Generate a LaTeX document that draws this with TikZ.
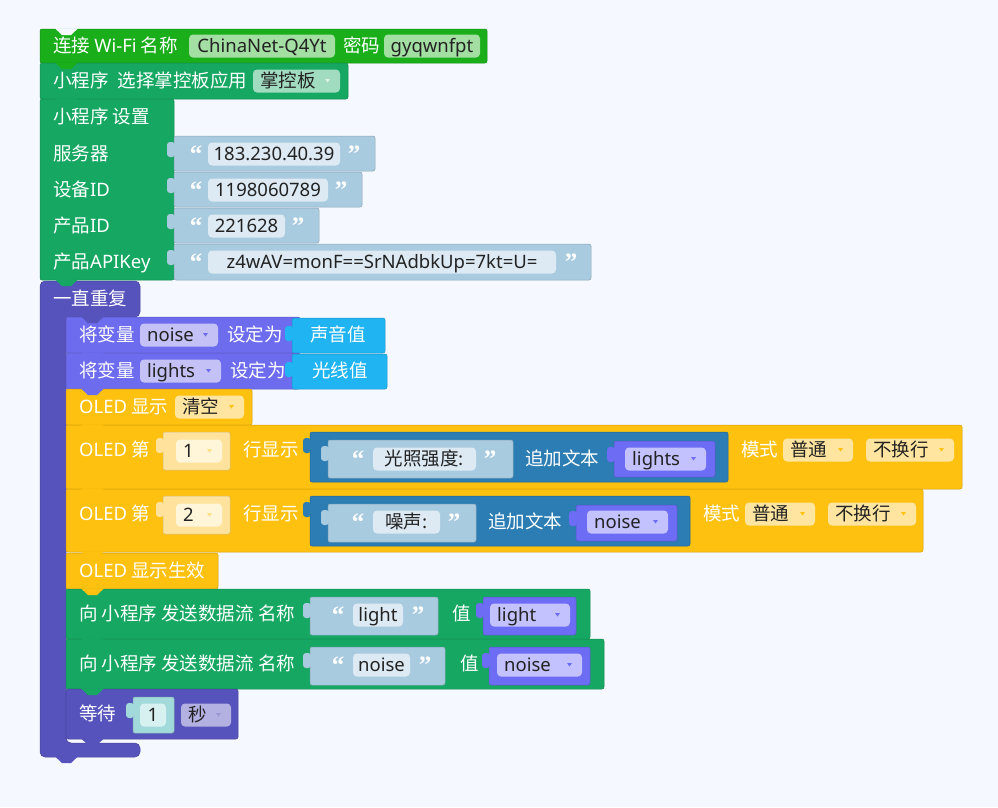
\documentclass[tikz,border=0pt]{standalone}
\usepackage{fontspec}
\setmainfont{Noto Sans}
\newfontfamily\cjk{Noto Sans CJK SC}
\newfontfamily\lat{Noto Sans}
\newfontfamily\qfont{Liberation Serif}
\usepackage{xcolor}
\definecolor{bgc}{HTML}{F5F8FE}
\definecolor{ink}{HTML}{222222}
\definecolor{wifi}{HTML}{1AAE1A}
\definecolor{wififld}{HTML}{A3DEA3}
\definecolor{mini}{HTML}{16A862}
\definecolor{minifld}{HTML}{A1DCC0}
\definecolor{txtb}{HTML}{A9CBE0}
\definecolor{txtfld}{HTML}{DDEAF3}
\definecolor{lpur}{HTML}{5653BC}
\definecolor{vset}{HTML}{6E6CEE}
\definecolor{vfld}{HTML}{C3C1F6}
\definecolor{sens}{HTML}{20B4F2}
\definecolor{oled}{HTML}{FFC10F}
\definecolor{oledfld}{HTML}{FFE59F}
\definecolor{numb}{HTML}{FFE39C}
\definecolor{numf}{HTML}{FFF5D8}
\definecolor{appd}{HTML}{2B7DB3}
\definecolor{vget}{HTML}{6D6CF4}
\definecolor{vgetfld}{HTML}{C3C2FE}
\definecolor{waitn}{HTML}{A2DADB}
\definecolor{waitf}{HTML}{D7F0F0}
\definecolor{secf}{HTML}{B3B0E2}
\usepackage{tikz}
\usetikzlibrary{positioning}
\newcommand{\fs}{\fontsize{18.5}{22}\selectfont}
% block body, notch tab, value tab, plain field, dropdown field
\newcommand{\blk}[5]{\filldraw[#1, draw=#1!82!black, line width=0.5pt, rounded corners=2pt] (#2,#3) rectangle (#4,#5);}
\newcommand{\ntab}[3]{\fill[#1] (#2+15,#3-0.6) -- (#2+22,#3+6) -- (#2+31,#3+6) -- (#2+38,#3-0.6) -- cycle;}
\newcommand{\vtab}[3]{\fill[#1, rounded corners=3pt] (#2-7,#3+6) rectangle (#2+1,#3+21);}
\newcommand{\fld}[6]{\fill[#5, rounded corners=4pt] (#2,#4-11.5) rectangle (#3,#4+11.5);
  \node[ftxt] (#1) at ({(#2+#3)/2},#4) {#6};}
\newcommand{\dfld}[7]{\fill[#5, rounded corners=4pt] (#2,#4-11.5) rectangle (#3,#4+11.5);
  \node[ftxt, anchor=west] (#1) at (#2+7,#4) {#7};
  \fill[#6] (#3-15,#4-2) -- (#3-10,#4-2) -- (#3-12.5,#4+1.5) -- cycle;}

\begin{document}
\begin{tikzpicture}[x=1pt, y=-1pt, font=\fs,
                   lbl/.style={text=white, anchor=west, inner sep=0pt, text height=13.5pt, text depth=1pt, font=\cjk\fs},
                   ftxt/.style={text=ink, inner sep=0pt, text height=13.5pt, text depth=1pt},
                   ctr/.style={text=white, inner sep=0pt, text height=13.5pt, text depth=1pt, font=\cjk\fs},
                   qt/.style={text=white, inner sep=0pt, font=\qfont\bfseries\fontsize{25}{25}\selectfont}]
    \fill[bgc] (0,0) rectangle (998,807);

    % setup
    \blk{wifi}{40}{29}{487}{63}
    \node[lbl] (wifi) at (53,46) {连接 {\lat Wi-Fi} 名称};
    \fld{ssid}{189}{335}{46}{wififld}{ChinaNet-Q4Yt}
    \node[lbl] (pwdl) at (343,46) {密码};
    \fld{pwd}{384}{480}{46}{wififld}{gyqwnfpt}

    \blk{mini}{40}{63}{348}{99}
    \node[lbl] (app) at (53,81) {小程序\hspace{9pt}选择掌控板应用};
    \dfld{board}{253}{340}{81}{minifld}{white!85!mini}{\cjk 掌控板}

    \blk{mini}{40}{99}{174}{280}
    \node[lbl] (setup) at (53,117) {小程序 设置};
    \node[lbl] (srv) at (53,154) {服务器};
    \node[lbl] (dev) at (53,190) {设备{\lat ID}};
    \node[lbl] (prd) at (53,226) {产品{\lat ID}};
    \node[lbl] (key) at (53,262) {产品{\lat APIKey}};

    \blk{txtb}{174}{136}{375}{171} \vtab{txtb}{174}{136}
    \node[qt] (q1a) at (196,154) {“}; \fld{srvv}{208}{340}{154}{txtfld}{183.230.40.39} \node[qt] (q1b) at (354,154) {”};
    \blk{txtb}{174}{172}{362}{207} \vtab{txtb}{174}{172}
    \node[qt] (q2a) at (196,190) {“}; \fld{devv}{208}{328}{190}{txtfld}{1198060789} \node[qt] (q2b) at (341,190) {”};
    \blk{txtb}{174}{208}{319}{243} \vtab{txtb}{174}{208}
    \node[qt] (q3a) at (196,226) {“}; \fld{prdv}{208}{285}{226}{txtfld}{221628} \node[qt] (q3b) at (298,226) {”};
    \blk{txtb}{174}{244}{591}{280} \vtab{txtb}{174}{244}
    \node[qt] (q4a) at (196,262) {“}; \fld{keyv}{208}{556}{262}{txtfld}{z4wAV=monF==SrNAdbkUp=7kt=U=} \node[qt] (q4b) at (571,262) {”};

    % forever loop
    \filldraw[lpur, draw=lpur!82!black, line width=0.5pt, rounded corners=5pt]
        (40,281) -- (140,281) -- (140,317) -- (66,317) -- (66,743) -- (140,743) -- (140,757) -- (40,757) -- cycle;
    \node[lbl] (forever) at (53,299) {一直重复};

    % variables
    \blk{vset}{66}{317}{300}{353}
    \node[lbl] (set1) at (79,335) {将变量};
    \dfld{noisev}{140}{218}{335}{vfld}{vset}{noise}
    \node[lbl] (to1) at (227,335) {设定为};
    \blk{sens}{292}{318}{385}{353} \vtab{sens}{292}{320}
    \node[ctr] (snd) at (338,335) {声音值};

    \blk{vset}{66}{353}{300}{389}
    \node[lbl] (set2) at (79,371) {将变量};
    \dfld{lightv}{140}{221}{371}{vfld}{vset}{lights}
    \node[lbl] (to2) at (230,371) {设定为};
    \blk{sens}{292}{354}{387}{389} \vtab{sens}{292}{356}
    \node[ctr] (lux) at (340,371) {光线值};

    % OLED
    \blk{oled}{66}{389}{252}{425}
    \node[lbl] (clr) at (79,407) {{\lat OLED} 显示};
    \dfld{clrv}{175}{244}{407}{oledfld}{oled}{\cjk 清空}

    \blk{oled}{66}{425}{962}{489}
    \node[lbl] (row1) at (79,450) {{\lat OLED} 第};
    \blk{numb}{163}{432}{230}{470} \vtab{numb}{163}{432}
    \dfld{n1}{176}{222}{451}{numf}{numb!85!oled}{1}
    \node[lbl] (show1) at (243,450) {行显示};
    \blk{appd}{310}{432}{728}{482} \vtab{appd}{310}{432}
    \blk{txtb}{328}{440}{513}{478} \vtab{txtb}{328}{440}
    \node[qt] (q5a) at (358,459) {“}; \fld{lxt}{373}{476}{459}{txtfld}{\cjk 光照强度:} \node[qt] (q5b) at (490,459) {”};
    \node[lbl] (add1) at (525,459) {追加文本};
    \blk{vget}{614}{441}{715}{477} \vtab{vget}{614}{441}
    \dfld{g1}{625}{706}{459}{vgetfld}{vget}{lights}
    \node[lbl] (mode1) at (741,450) {模式};
    \dfld{m1}{783}{853}{450}{oledfld}{oled}{\cjk 普通}
    \dfld{w1}{866}{954}{450}{oledfld}{oled}{\cjk 不换行}

    \blk{oled}{66}{489}{923}{552}
    \node[lbl] (row2) at (79,514) {{\lat OLED} 第};
    \blk{numb}{163}{496}{230}{534} \vtab{numb}{163}{496}
    \dfld{n2}{176}{222}{515}{numf}{numb!85!oled}{2}
    \node[lbl] (show2) at (243,514) {行显示};
    \blk{appd}{310}{496}{690}{546} \vtab{appd}{310}{496}
    \blk{txtb}{328}{504}{476}{542} \vtab{txtb}{328}{504}
    \node[qt] (q6a) at (358,522) {“}; \fld{nzt}{373}{440}{522}{txtfld}{\cjk 噪声:} \node[qt] (q6b) at (454,522) {”};
    \node[lbl] (add2) at (488,522) {追加文本};
    \blk{vget}{576}{505}{677}{541} \vtab{vget}{576}{505}
    \dfld{g2}{587}{668}{522}{vgetfld}{vget}{noise}
    \node[lbl] (mode2) at (703,514) {模式};
    \dfld{m2}{745}{815}{514}{oledfld}{oled}{\cjk 普通}
    \dfld{w2}{828}{916}{514}{oledfld}{oled}{\cjk 不换行}

    \blk{oled}{66}{553}{218}{589}
    \node[lbl] (apply) at (79,571) {{\lat OLED} 显示生效};

    % data streams
    \blk{mini}{66}{589}{590}{639}
    \node[lbl] (send1) at (79,614) {向 小程序 发送数据流 名称};
    \blk{txtb}{310}{597}{438}{635} \vtab{txtb}{310}{597}
    \node[qt] (q7a) at (338,615) {“}; \fld{s1n}{353}{403}{615}{txtfld}{light} \node[qt] (q7b) at (418,615) {”};
    \node[lbl] (val1) at (452,614) {值};
    \blk{vget}{483}{597}{576}{635} \vtab{vget}{483}{597}
    \dfld{s1v}{490}{570}{615}{vgetfld}{vget}{light}

    \blk{mini}{66}{639}{604}{689}
    \node[lbl] (send2) at (79,664) {向 小程序 发送数据流 名称};
    \blk{txtb}{310}{647}{445}{685} \vtab{txtb}{310}{647}
    \node[qt] (q8a) at (338,665) {“}; \fld{s2n}{353}{410}{665}{txtfld}{noise} \node[qt] (q8b) at (425,665) {”};
    \node[lbl] (val2) at (460,664) {值};
    \blk{vget}{489}{647}{590}{685} \vtab{vget}{489}{647}
    \dfld{s2v}{497}{582}{665}{vgetfld}{vget}{noise}

    % wait
    \blk{lpur}{66}{689}{238}{739}
    \node[lbl] (wait) at (79,714) {等待};
    \blk{waitn}{133}{697}{174}{733} \vtab{waitn}{133}{697}
    \fld{sec}{140}{166}{715}{waitf}{1}
    \dfld{unit}{181}{231}{715}{secf}{lpur!60!white}{\cjk 秒}

    % notches
    \ntab{bgc}{40}{29}
    \ntab{wifi}{40}{63}
    \ntab{mini}{40}{99}
    \ntab{mini}{40}{280}
    \ntab{lpur}{66}{317}
    \ntab{vset}{66}{353}
    \ntab{vset}{66}{389}
    \ntab{oled}{66}{425}
    \ntab{oled}{66}{489}
    \ntab{oled}{66}{552}
    \ntab{oled}{66}{589}
    \ntab{mini}{66}{639}
    \ntab{mini}{66}{689}
    \ntab{lpur}{66}{739}
    \ntab{lpur}{40}{757}
\end{tikzpicture}
\end{document}
